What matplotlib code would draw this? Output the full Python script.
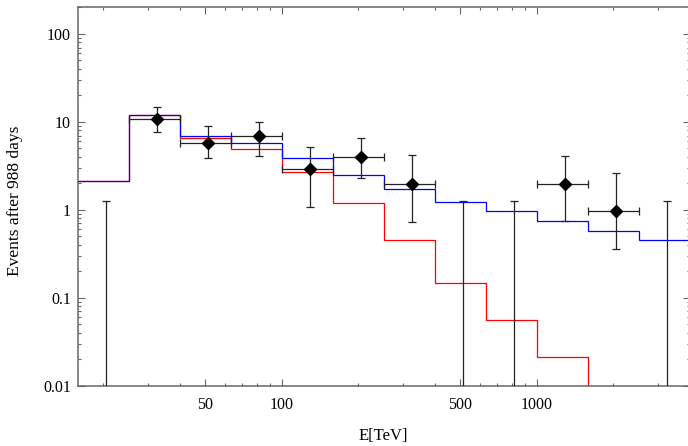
import matplotlib
matplotlib.use("Agg")
import matplotlib.pyplot as plt
from matplotlib.ticker import FixedLocator, NullFormatter, FixedFormatter
import numpy as np

# ---------------- data ----------------
bin_edges = [15.85, 25.12, 39.81, 63.10, 100.0, 158.5, 251.2, 398.1, 631.0, 1000.0, 1585.0, 2512.0, 3981.0]
blue_counts = [2.14, 12.0, 6.98, 5.72, 3.87, 2.50, 1.72, 1.24, 0.97, 0.75, 0.577, 0.452]
red_counts = [2.14, 12.0, 6.6, 4.93, 2.68, 1.19, 0.452, 0.148, 0.0562, 0.021, 1e-4, 1e-4]

data_E = [32.5, 51.5, 81.6, 129.2, 204.8, 324.6, 1292.0, 2048.0]
data_E_lo = [25.12, 39.81, 63.10, 100.0, 158.5, 251.2, 1000.0, 1585.0]
data_E_hi = [39.81, 63.10, 100.0, 158.5, 251.2, 398.1, 1585.0, 2512.0]
data_N = [10.9, 5.82, 6.88, 2.92, 3.97, 1.96, 1.96, 0.97]
data_N_lo = [7.77, 3.87, 4.14, 1.09, 2.29, 0.73, 0.737, 0.357]
data_N_hi = [14.7, 9.07, 10.1, 5.24, 6.62, 4.17, 4.14, 2.65]

ul_E = [20.5, 514.0, 815.0, 3245.0]
ul_N = [1.27, 1.27, 1.27, 1.27]

x_major = [50, 100, 500, 1000]
x_major_labels = ["50", "100", "500", "1000"]
x_minor = [20, 30, 40, 60, 70, 80, 90, 200, 300, 400, 600, 700, 800, 900, 2000, 3000]
y_major = [0.01, 0.1, 1, 10, 100]
y_major_labels = ["0.01", "0.1", "1", "10", "100"]

# ---------------- figure ----------------
W, H = 688, 446
fig = plt.figure(figsize=(W / 100, H / 100), dpi=100)
ax_l, ax_r, ax_t, ax_b = 77.7, 689.7, 7.3, 385.7
ax = fig.add_axes([ax_l / W, (H - ax_b) / H, (ax_r - ax_l) / W, (ax_b - ax_t) / H])
ax.set_xscale("log")
ax.set_yscale("log")
ax.set_xlim(10 ** 1.2, 10 ** 3.6)
ax.set_ylim(0.01, 10 ** 2.303)

ax.stairs(red_counts, bin_edges, color="#ff0000", lw=0.9, baseline=None, zorder=2)
ax.stairs(blue_counts, bin_edges, color="#0000ff", lw=0.9, baseline=None, zorder=3)

E = np.array(data_E)
N = np.array(data_N)
xerr = [E - np.array(data_E_lo), np.array(data_E_hi) - E]
yerr = [N - np.array(data_N_lo), np.array(data_N_hi) - N]
ax.errorbar(E, N, xerr=xerr, yerr=yerr, fmt="D", color="black", ms=6.3,
            ecolor="#222222", elinewidth=0.9, capsize=2.6, capthick=0.9, zorder=5)

ulE = np.array(ul_E)
ulN = np.array(ul_N)
low = np.full_like(ulN, 1e-4)
ax.errorbar(ulE, low, yerr=[np.zeros_like(ulN), ulN - low], fmt="none",
            ecolor="#222222", elinewidth=0.9, capsize=2.6, capthick=0.9, zorder=5)

serif = ["Liberation Serif", "DejaVu Serif"]
ax.xaxis.set_major_locator(FixedLocator(x_major))
ax.xaxis.set_major_formatter(FixedFormatter(x_major_labels))
ax.xaxis.set_minor_locator(FixedLocator(x_minor))
ax.xaxis.set_minor_formatter(NullFormatter())
ax.yaxis.set_major_locator(FixedLocator(y_major))
ax.yaxis.set_major_formatter(FixedFormatter(y_major_labels))
ymin = []
for d in [0.01, 0.1, 1, 10, 100]:
    for s in range(2, 10):
        ymin.append(d * s)
ax.yaxis.set_minor_locator(FixedLocator(ymin))
ax.yaxis.set_minor_formatter(NullFormatter())

gray = "#666666"
for sp in ax.spines.values():
    sp.set_color(gray)
    sp.set_linewidth(1.1)
ax.tick_params(which="both", direction="in", top=True, right=True, color=gray, width=0.8)
ax.tick_params(which="major", length=5)
ax.tick_params(which="minor", length=2.5)
ax.tick_params(axis="x", which="major", pad=8)
ax.tick_params(axis="y", which="major", pad=5)
for lab in ax.get_xticklabels() + ax.get_yticklabels():
    lab.set_fontfamily(serif)
    lab.set_fontsize(11.5)
    lab.set_color("black")

fig.text(383 / W, 1 - 436 / H, "E[TeV]", family=serif, fontsize=12,
         ha="center", va="center")
fig.text(15 / W, 1 - 201 / H, "Events after 988 days", family=serif, fontsize=12.5,
         ha="center", va="center", rotation=90)

fig.savefig("out.png", dpi=100)
